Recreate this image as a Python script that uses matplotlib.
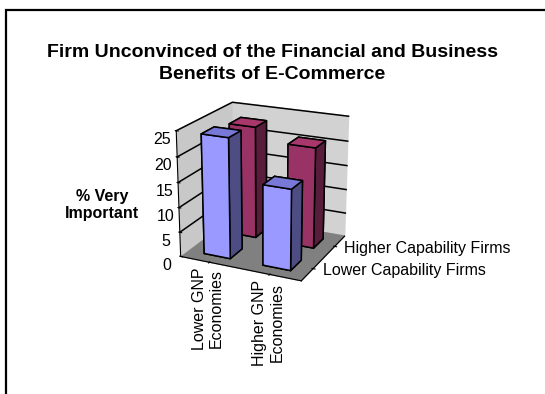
import numpy as np
import matplotlib.pyplot as plt
from matplotlib.patches import Rectangle

plt.rcParams["font.family"] = ["Liberation Sans", "DejaVu Sans"]

categories = ["Lower GNP\nEconomies", "Higher GNP\nEconomies"]
series_names = ["Lower Capability Firms", "Higher Capability Firms"]
lower_cap = [24, 16]
higher_cap = [23, 20.5]
z_ticks = [0, 5, 10, 15, 20, 25]

# face colours per bar: bottom, top, front, back, left, right
blue_faces = ["#9999ff", "#7878d8", "#9999ff", "#9999ff", "#9999ff", "#4d4d84"]
red_faces = ["#993366", "#a8386c", "#993366", "#993366", "#993366", "#581d3b"]

fig = plt.figure(figsize=(5.45, 3.94), dpi=100)
fig.patches.append(Rectangle((6 / 545, -0.1), 1.2, 1 - 10 / 394 + 0.1,
                             transform=fig.transFigure, fill=False,
                             edgecolor="black", linewidth=1.6))

fig.text(0.5, 0.838, "Firm Unconvinced of the Financial and Business\nBenefits of E-Commerce",
         ha="center", va="center", fontsize=14, fontweight="bold", linespacing=1.4)
fig.text(0.187, 0.48, "% Very\nImportant", ha="center", va="center",
         fontsize=11.5, fontweight="bold")

ax = fig.add_axes([0.179, 0.168, 0.6, 0.7], projection="3d")
ax.set_proj_type("persp", focal_length=0.6)
ax.view_init(elev=20, azim=-65)
ax.set_box_aspect((1.0, 0.9, 1.0), zoom=0.77)

nx = len(categories)
ny = len(series_names)
xs = np.arange(nx)
bw = 0.45
rows = [(lower_cap, 0, blue_faces), (higher_cap, 1, red_faces)]
# draw back row first so the front row sits on top
for vals, row, faces in reversed(rows):
    for i, v in enumerate(vals):
        ax.bar3d(xs[i] - bw / 2, row + 0.5 - bw / 2, 0, bw, bw, v,
                 color=faces, edgecolor="black", linewidth=1.1, shade=False)

ax.set_xlim(-0.5, nx - 0.5)
ax.set_ylim(0, ny)
ax.set_zlim(0, 25)

# horizontal gridlines on the side and back walls only
ax.grid(False)
for z in z_ticks[1:]:
    ax.plot([-0.5, -0.5, nx - 0.5], [0, ny, ny], [z, z, z], color="black", lw=1.1)

ax.xaxis.set_pane_color("#c8c8c8")
ax.yaxis.set_pane_color("#d2d2d2")
ax.zaxis.set_pane_color("#808080")

ax.zaxis._axinfo["juggled"] = (1, 2, 0)

ax.set_xticks(xs)
ax.set_xticklabels(categories, rotation=90, fontsize=11.5, va="top", ha="center")
ax.set_zticks(z_ticks)
ax.set_zticklabels([str(z) for z in z_ticks], fontsize=11.5)
ax.tick_params(axis="x", pad=-5)
ax.tick_params(axis="z", pad=0)

# series names sit just outside the right-hand floor edge
row_pos = np.arange(ny) + 0.5
ax.set_yticks(row_pos)
ax.set_yticklabels([])
for yp, name in zip(row_pos, series_names):
    ax.text(nx - 0.5 + 0.16, yp, 0, name, fontsize=11.5, ha="left", va="center")

fig.savefig("out.png", dpi=100)
